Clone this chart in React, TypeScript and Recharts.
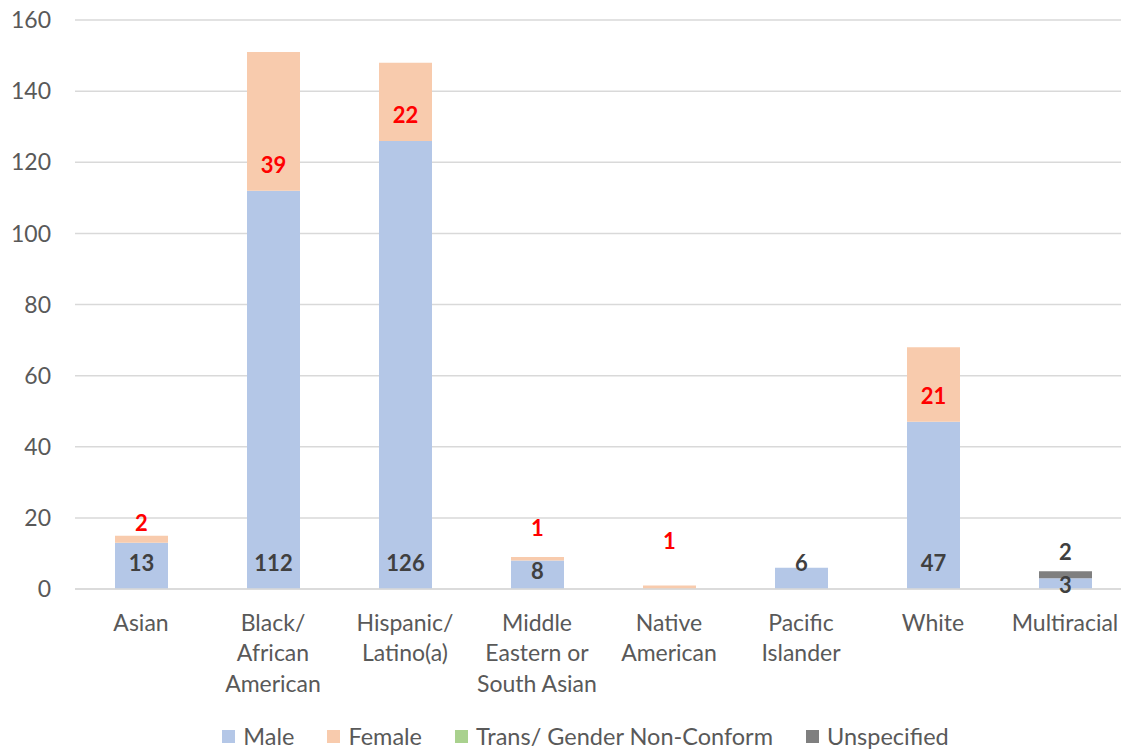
import { Bar, BarChart, CartesianGrid, LabelList, Legend, XAxis, YAxis } from 'recharts';

const categories = [
  'Asian',
  'Black/\nAfrican\nAmerican',
  'Hispanic/\nLatino(a)',
  'Middle\nEastern or\nSouth Asian',
  'Native\nAmerican',
  'Pacific\nIslander',
  'White',
  'Multiracial',
];
const male = [13, 112, 126, 8, 0, 6, 47, 3];
const female = [2, 39, 22, 1, 1, 0, 21, 0];
const trans = [0, 0, 0, 0, 0, 0, 0, 0];
const unspecified = [0, 0, 0, 0, 0, 0, 0, 2];
const yTicks = [0, 20, 40, 60, 80, 100, 120, 140, 160];

// hand-placed label tweaks for the short segments (by category position)
const labelNudge: Record<string, number[]> = {
  male: [0, 0, 0, 7.5, 0, 0, 0, 22],
  female: [6.5, 0, 0, -7, -22.5, 0, 0, 0],
  unspecified: [0, 0, 0, 0, 0, 0, 0, 0],
};

const FONT = 'Lato, Carlito, "Liberation Sans", sans-serif';

const series = [
  { key: 'male', name: 'Male', color: '#b4c7e7' },
  { key: 'female', name: 'Female', color: '#f8cbad' },
  { key: 'trans', name: 'Trans/ Gender Non-Conform', color: '#a9d18e' },
  { key: 'unspecified', name: 'Unspecified', color: '#7f7f7f' },
];

const data = categories.map((category, i) => ({
  category,
  pos: i,
  male: male[i],
  female: female[i],
  trans: trans[i],
  unspecified: unspecified[i],
}));

// "inside base" label: baseline sits a fixed distance above the segment's bottom.
// The LabelList value is the whole row so the category position is known.
const baseLabel = (key: string, color: string) => (props: any) => {
  const { x, y, width, height, value } = props;
  const row = value as any;
  if (!row || !row[key]) return null;
  const baseline = Number(y) + Number(height) - 18 + (labelNudge[key][row.pos] ?? 0);
  return (
    <text
      x={Number(x) + Number(width) / 2}
      y={baseline}
      textAnchor="middle"
      fill={color}
      fontSize={22}
      fontWeight={700}
      fontFamily={FONT}
    >
      {row[key]}
    </text>
  );
};

const CategoryTick = ({ x, y, payload }: any) => {
  const lines = String(payload.value).split('\n');
  return (
    <text textAnchor="middle" fill="#595959" fontSize={23} fontFamily={FONT}>
      {lines.map((line, i) => (
        <tspan key={i} x={x} y={y + 41.5 + i * 30.5}>
          {line}
        </tspan>
      ))}
    </text>
  );
};

const LegendRow = () => (
  <div
    style={{
      display: 'flex',
      justifyContent: 'center',
      alignItems: 'center',
      gap: 33,
      paddingLeft: 40,
      fontFamily: FONT,
      fontSize: 23.5,
      color: '#595959',
      lineHeight: '24px',
    }}
  >
    {series.map((s) => (
      <div key={s.key} style={{ display: 'flex', alignItems: 'center', gap: 8 }}>
        <span style={{ width: 13, height: 13, background: s.color, display: 'inline-block' }} />
        <span>{s.name}</span>
      </div>
    ))}
  </div>
);

export default function App() {
  return (
    <div
      style={{
        position: 'absolute',
        left: 0,
        top: 0,
        width: 1121,
        height: 751,
        overflow: 'hidden',
        background: '#ffffff',
        fontFamily: FONT,
      }}
    >
      <BarChart
        width={1140}
        height={751}
        data={data}
        margin={{ top: 20, right: 9, bottom: 3, left: 0 }}
        barSize={53}
      >
        <CartesianGrid vertical={false} stroke="#d9d9d9" strokeWidth={1.5} />
        <XAxis
          dataKey="category"
          interval={0}
          height={135}
          tickLine={false}
          tickSize={0}
          tickMargin={0}
          axisLine={{ stroke: '#d9d9d9', strokeWidth: 1.5 }}
          tick={<CategoryTick />}
        />
        <YAxis
          width={75}
          domain={[0, 160]}
          ticks={yTicks}
          axisLine={false}
          tickLine={false}
          tickSize={0}
          tickMargin={24}
          tick={{ fill: '#595959', fontSize: 23, fontFamily: FONT }}
        />
        <Legend verticalAlign="bottom" height={24} content={<LegendRow />} />
        <Bar dataKey="male" name="Male" stackId="g" fill="#b4c7e7" isAnimationActive={false}>
          <LabelList dataKey={(row: any) => row} content={baseLabel('male', '#404040')} />
        </Bar>
        <Bar dataKey="female" name="Female" stackId="g" fill="#f8cbad" isAnimationActive={false}>
          <LabelList dataKey={(row: any) => row} content={baseLabel('female', '#ff0000')} />
        </Bar>
        <Bar dataKey="trans" name="Trans/ Gender Non-Conform" stackId="g" fill="#a9d18e" isAnimationActive={false} />
        <Bar dataKey="unspecified" name="Unspecified" stackId="g" fill="#7f7f7f" isAnimationActive={false}>
          <LabelList dataKey={(row: any) => row} content={baseLabel('unspecified', '#404040')} />
        </Bar>
      </BarChart>
    </div>
  );
}
